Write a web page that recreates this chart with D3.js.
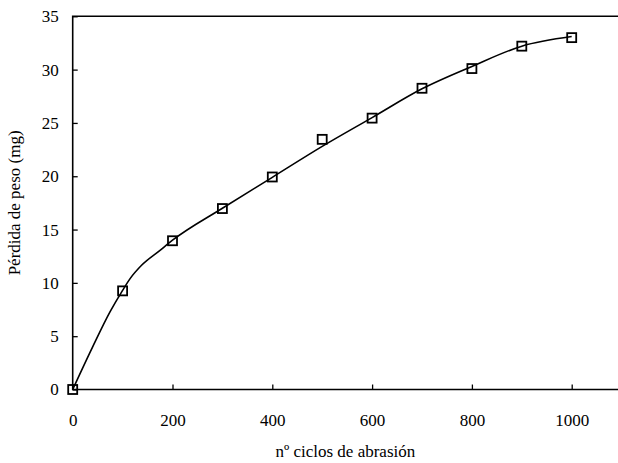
<!DOCTYPE html>
<html>
<head>
<meta charset="utf-8">
<script src="https://cdn.jsdelivr.net/npm/d3@7"></script>
<style>
  body { margin: 0; background: #fff; }
</style>
</head>
<body>
<svg id="canvas" width="618" height="463"></svg>
<script>
// measured points
let ciclos = [0, 100, 200, 300, 400, 500, 600, 700, 800, 900, 1000]
let perdida = [0, 9.25, 13.95, 16.97, 19.93, 23.46, 25.45, 28.25, 30.1, 32.2, 33.0]

// smoothed curve
let curvaX = [0, 40, 75, 100, 115, 138, 175, 200, 300, 400, 500, 600, 700, 800, 900, 1000]
let curvaY = [0, 4.0, 7.3, 9.3, 10.4, 11.65, 13.05, 14.0, 17.0, 19.9, 22.8, 25.5, 28.2, 30.3, 32.2, 33.1]

let xTicks = [0, 200, 400, 600, 800, 1000]
let yTicks = [0, 5, 10, 15, 20, 25, 30, 35]

let serif = "Liberation Serif"

let canvas = d3.select("#canvas")
let width = 618

let x = d3.scaleLinear().domain([0, 1000]).range([72.7, 571.7])
let y = d3.scaleLinear().domain([0, 35]).range([389.5, 16.3])

// frame: left axis, bottom axis, top line
canvas.append("path")
  .attr("d", `M${width},${y(35)}H${x(0)}V${y(0)}H${width}`)
  .attr("fill", "none")
  .attr("stroke", "#000")
  .attr("stroke-width", 1.6)

let xAxis = canvas.append("g")
  .attr("transform", `translate(0,${y(0)})`)
  .call(d3.axisBottom(x).tickValues(xTicks).tickSizeInner(-5).tickSizeOuter(0).tickPadding(24).tickFormat(d3.format("d")))
xAxis.select(".domain").remove()
xAxis.selectAll("line").attr("stroke-width", 1.3)
xAxis.attr("font-family", serif).attr("font-size", 17)

let yAxis = canvas.append("g")
  .attr("transform", `translate(${x(0)},0)`)
  .call(d3.axisLeft(y).tickValues(yTicks).tickSizeInner(-5).tickSizeOuter(0).tickPadding(14))
yAxis.select(".domain").remove()
yAxis.selectAll("line").attr("stroke-width", 1.3)
yAxis.attr("font-family", serif).attr("font-size", 17)

// curve
let curva = curvaX.map((d, i) => [d, curvaY[i]])
canvas.append("path")
  .datum(curva)
  .attr("fill", "none")
  .attr("stroke", "#000")
  .attr("stroke-width", 1.6)
  .attr("d", d3.line().x(d => x(d[0])).y(d => y(d[1])).curve(d3.curveMonotoneX))

// square markers
canvas.selectAll("rect.punto")
  .data(ciclos)
  .enter()
  .append("rect")
  .attr("class", "punto")
  .attr("x", d => x(d) - 4.5)
  .attr("y", (d, i) => y(perdida[i]) - 4.5)
  .attr("width", 9)
  .attr("height", 9)
  .attr("fill", "none")
  .attr("stroke", "#000")
  .attr("stroke-width", 1.8)

// axis titles
canvas.append("text")
  .attr("x", (x(0) + width) / 2)
  .attr("y", 457)
  .attr("text-anchor", "middle")
  .attr("font-family", serif)
  .attr("font-size", 17)
  .text("nº ciclos de abrasión")

canvas.append("text")
  .attr("transform", `translate(20,${(y(0) + y(35)) / 2}) rotate(-90)`)
  .attr("text-anchor", "middle")
  .attr("font-family", serif)
  .attr("font-size", 17)
  .text("Pérdida de peso (mg)")
</script>
</body>
</html>
